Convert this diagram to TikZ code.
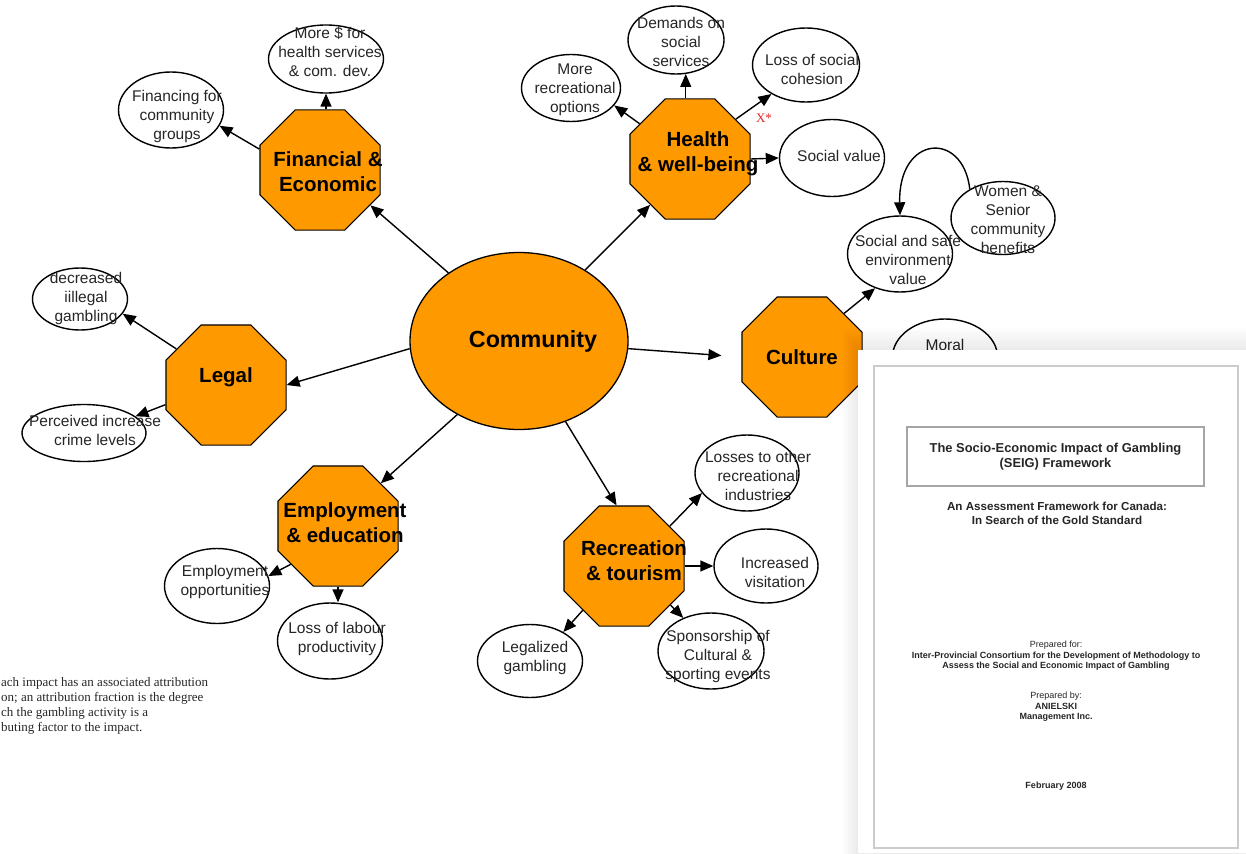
\documentclass[tikz,border=0pt]{standalone}
\usepackage{fontspec}
\setmainfont{Liberation Sans}
\newfontfamily\timesfont{Liberation Serif}
\usetikzlibrary{shapes.geometric,arrows.meta}
\definecolor{orng}{RGB}{255,153,0}
\definecolor{xred}{RGB}{225,40,40}
\begin{document}
\begin{tikzpicture}[x=1pt,y=-1pt,
  oct/.style={regular polygon, regular polygon sides=8, minimum size=130pt, inner sep=0pt, draw=black, line width=1.1pt, fill=orng},
  octtxt/.style={font=\bfseries\fontsize{20.5}{25}\selectfont, align=center, inner sep=0pt},
  ell/.style={ellipse, draw=black, line width=1.4pt, inner sep=0pt},
  etxt/.style={font=\fontsize{15.5}{19}\selectfont, align=center, inner sep=0pt, text=black!85},
  arr/.style={-{Triangle[length=13pt,width=11pt]}, line width=1.4pt},
  doctxt/.style={font=\fontsize{9}{10.5}\selectfont, align=center, inner sep=0pt, text=black!85},
]
\useasboundingbox (0,0) rectangle (1246,853);
\fill[white] (0,0) rectangle (1246,853);

% central node
\node[ellipse, draw=black, line width=1.3pt, fill=orng, minimum width=218pt, minimum height=177pt,
  label={[font=\bfseries\fontsize{23.3}{28}\selectfont, xshift=14pt]center:Community}] (comm) at (519,341) {};

% octagons
\node[oct, label={[octtxt,xshift=8pt,yshift=-1.5pt]center:{Financial \&\\Economic}}] (fin) at (320,170) {};
\node[oct, label={[octtxt,xshift=8pt,yshift=5.5pt]center:{Health\\\& well-being}}] (hlth) at (690,159) {};
\node[oct, label={[octtxt,yshift=8pt]center:Legal}] (legal) at (226,385) {};
\node[oct, label={[octtxt]center:Culture}] (cult) at (802,357) {};
\node[oct, label={[octtxt,xshift=7pt,yshift=3.5pt]center:{Employment\\\& education}}] (emp) at (338,526) {};
\node[oct, label={[octtxt,xshift=10pt,yshift=5.5pt]center:{Recreation\\\& tourism}}] (rec) at (624,566) {};

% ellipses
\node[ell, minimum width=115pt, minimum height=68pt, label={[etxt,xshift=4pt,yshift=7pt]center:{More \$ for\\health services\\\& com. dev.}}] (more) at (326,59) {};
\node[ell, minimum width=105pt, minimum height=76pt, label={[etxt,xshift=6pt,yshift=-6pt]center:{Financing for\\community\\groups}}] (finc) at (171,110) {};
\node[ell, minimum width=95pt, minimum height=62pt, label={[etxt,xshift=6pt,yshift=1pt]center:{decreased\\iillegal\\gambling}}] (decr) at (80,299) {};
\node[ell, minimum width=124pt, minimum height=57pt, label={[etxt,xshift=11pt,yshift=2.5pt]center:{Perceived increase\\crime levels}}] (crime) at (84,433) {};
\node[ell, minimum width=105pt, minimum height=75pt, label={[etxt,xshift=8pt,yshift=4.5pt]center:{Employment\\opportunities}}] (eopp) at (217,586) {};
\node[ell, minimum width=105pt, minimum height=76pt, label={[etxt,xshift=7pt,yshift=2.5pt]center:{Loss of labour\\productivity}}] (labr) at (330,641) {};
\node[ell, minimum width=105pt, minimum height=73pt, label={[etxt,xshift=5pt,yshift=3pt]center:{Legalized\\gambling}}] (legz) at (530,661) {};
\node[ell, minimum width=106pt, minimum height=76pt, label={[etxt,xshift=7pt,yshift=-5pt]center:{Sponsorship of\\Cultural \&\\sporting events}}] (spon) at (711,651) {};
\node[ell, minimum width=104pt, minimum height=74pt, label={[etxt,xshift=9pt,yshift=-6.5pt]center:{Increased\\visitation}}] (visit) at (766,566) {};
\node[ell, minimum width=104pt, minimum height=76pt, label={[etxt,xshift=11pt,yshift=-3pt]center:{Losses to other\\recreational\\industries}}] (loss) at (747,473) {};
\node[ell, minimum width=99pt, minimum height=67pt, label={[etxt,xshift=4pt,yshift=-1.5pt]center:{More\\recreational\\options}}] (mrec) at (571,88) {};
\node[ell, minimum width=96pt, minimum height=68pt, label={[etxt,xshift=5pt,yshift=-2pt]center:{Demands on\\social\\services}}] (dem) at (676,40) {};
\node[ell, minimum width=107pt, minimum height=74pt, label={[etxt,xshift=6pt,yshift=-4.5pt]center:{Loss of social\\cohesion}}] (coh) at (806,65) {};
\node[ell, minimum width=105pt, minimum height=77pt, label={[etxt,xshift=7pt,yshift=2pt]center:{Social value}}] (sval) at (832,158) {};
\node[ell, minimum width=104pt, minimum height=73pt, label={[etxt,xshift=5pt,yshift=-1.5pt]center:{Women \&\\Senior\\community\\benefits}}] (wom) at (1003,218) {};
\node[ell, minimum width=105pt, minimum height=76pt, label={[etxt,xshift=8pt,yshift=-6pt]center:{Social and safe\\environment\\value}}] (safe) at (900,254) {};
\node[ell, minimum width=105pt, minimum height=76pt, label={[etxt,yshift=12pt]center:{Moral}}] (moral) at (945,357) {};

\node[font=\timesfont\fontsize{13}{15}\selectfont, text=xred, inner sep=0pt] (xs) at (764,118) {X*};

% connectors
\draw[arr] (comm.136) -- (fin.325);
\draw[arr] (comm.47) -- (hlth.229);
\draw[arr] (comm.184) -- (legal.0);
\draw[arr, shorten >=20pt] (comm.-4) -- (cult.180);
\draw[arr] (comm.230) -- (emp.45);
\draw[arr] (comm.300) -- (rec.97);
\draw[arr] (fin.161) -- (finc.-18);
\draw[arr] (fin.north -| more.south) -- (more.south);
\draw[arr] (legal.144) -- (decr.-19);
\draw[arr] (legal.198) -- (crime.18);
\draw[arr] (emp.219) -- (eopp.11);
\draw[arr] (emp.south) -- (emp.south |- labr.north);
\draw[arr] (rec.227) -- (legz.41);
\draw[arr] (rec.320) -- (spon.130);
\draw[arr] (rec.0) -- (visit.180);
\draw[arr] (rec.41) -- (loss.204);
\draw[arr] (hlth.145) -- (mrec.-22);
\draw[arr] (dem.286 |- hlth.north) -- (dem.286);
\draw[arr] (hlth.41) -- (coh.220);
\draw[arr] (hlth.0) -- (sval.180);
\draw[arr] (cult.46) -- (safe.234);
\draw[arr] (wom.139) .. controls (963,130) and (898,135) .. (safe.north);

% footnote text (cut at left edge)
\node[font=\timesfont\fontsize{13}{15}\selectfont, align=left, anchor=north west, inner sep=0pt, text=black!85] (note) at (1,677)
  {ach impact has an associated attribution\\on; an attribution fraction is the degree\\ch the gambling activity is a\\buting factor to the impact.};

% document overlay with shadow
\foreach \i in {1,...,10}
  \fill[black, fill opacity=0.009] ({858-1.6*\i},{350-2.2*\i}) rectangle (1250,860);
\fill[white] (858,350) rectangle (1246,853);
\draw[black!20, line width=1.5pt] (874,366) rectangle (1238,848);
\node[draw=black!35, line width=1.2pt, minimum width=297pt, minimum height=59pt, inner sep=0pt,
  font=\bfseries\fontsize{12.9}{15}\selectfont, align=center, text=black!85] (title) at (1055.5,456.5)
  {The Socio-Economic Impact of Gambling\\(SEIG) Framework};
\node[font=\bfseries\fontsize{11.6}{14}\selectfont, align=center, inner sep=0pt, text=black!85] (sub) at (1057,513)
  {An Assessment Framework for Canada:\\In Search of the Gold Standard};
\node[doctxt] (prepfor) at (1056,656)
  {Prepared for:\\\textbf{Inter-Provincial Consortium for the Development of Methodology to}\\\textbf{Assess the Social and Economic Impact of Gambling}};
\node[doctxt] (prepby) at (1056,707)
  {Prepared by:\\\textbf{ANIELSKI}\\\textbf{Management Inc.}};
\node[doctxt, font=\bfseries\fontsize{9}{10.5}\selectfont] (feb) at (1056,786) {February 2008};
\end{tikzpicture}
\end{document}
